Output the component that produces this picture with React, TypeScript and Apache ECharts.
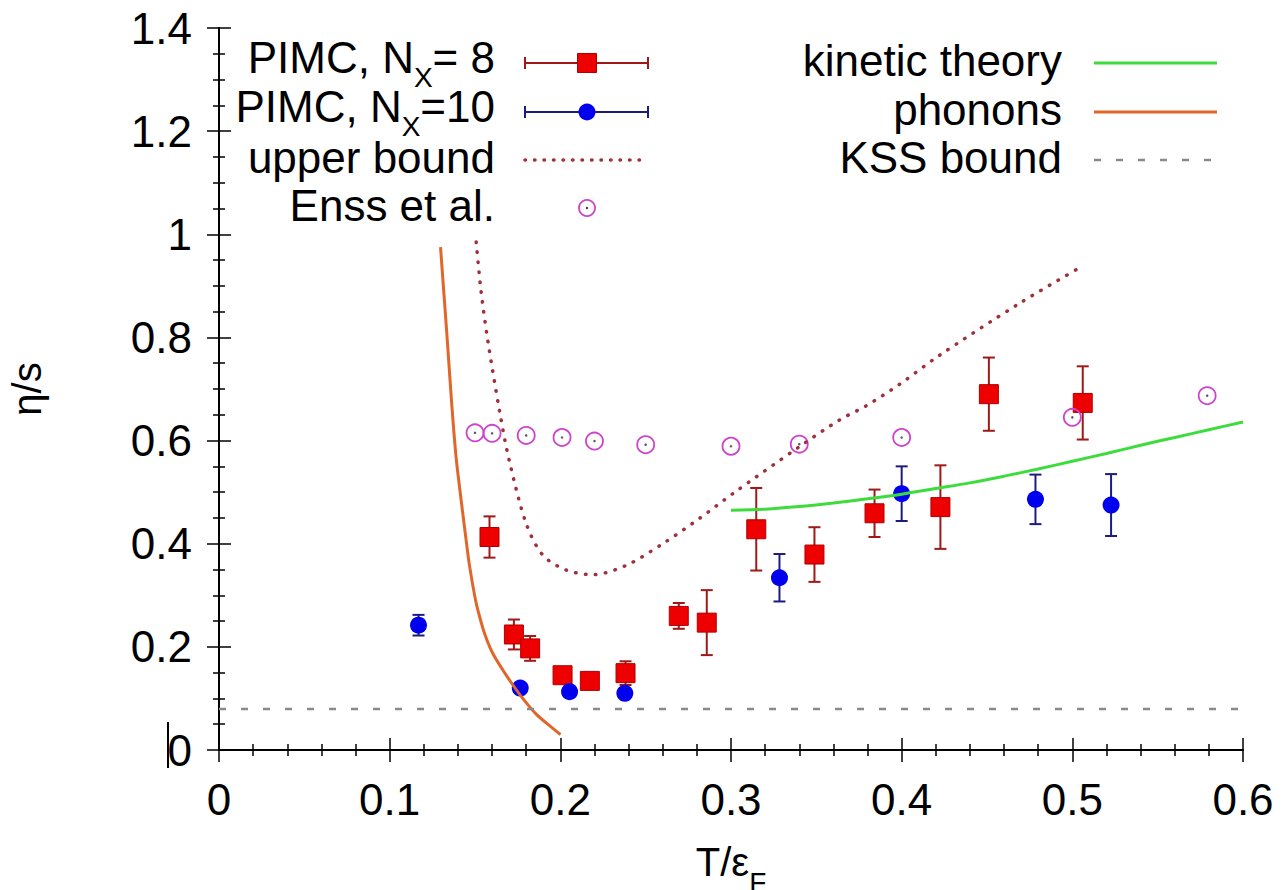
import React, { useEffect, useRef } from 'react';
import * as echarts from 'echarts';

// ---------- data ----------
const pimc8T = [0.1585, 0.1728, 0.1823, 0.2013, 0.2173, 0.2382, 0.2694, 0.2858, 0.3148, 0.3489, 0.3841, 0.4227, 0.4511, 0.5061];
const pimc8Eta = [0.413, 0.224, 0.197, 0.145, 0.134, 0.149, 0.260, 0.247, 0.428, 0.379, 0.459, 0.471, 0.690, 0.673];
const pimc8Err = [0.040, 0.029, 0.024, 0.012, 0.010, 0.023, 0.025, 0.063, 0.080, 0.053, 0.046, 0.081, 0.071, 0.071];

const pimc10T = [0.1169, 0.1765, 0.2054, 0.2378, 0.3284, 0.4000, 0.4784, 0.5227];
const pimc10Eta = [0.242, 0.120, 0.113, 0.110, 0.334, 0.497, 0.486, 0.475];
const pimc10Err = [0.020, 0.008, 0.008, 0.008, 0.046, 0.053, 0.048, 0.060];

const ennsT = [0.150, 0.160, 0.180, 0.201, 0.220, 0.250, 0.300, 0.340, 0.400, 0.500, 0.579];
const ennsEta = [0.615, 0.614, 0.610, 0.606, 0.599, 0.592, 0.589, 0.593, 0.606, 0.645, 0.687];

const upperT = [0.1507, 0.1536, 0.1575, 0.1645, 0.170, 0.180, 0.1897, 0.2034, 0.219, 0.2386, 0.260, 0.2815, 0.301, 0.340, 0.3636, 0.379, 0.3987, 0.422, 0.469, 0.5047];
const upperEta = [0.985, 0.888, 0.794, 0.655, 0.562, 0.439, 0.378, 0.349, 0.340, 0.358, 0.400, 0.449, 0.497, 0.588, 0.640, 0.667, 0.709, 0.765, 0.866, 0.936];

const kineticT = [0.30, 0.32, 0.34, 0.36, 0.38, 0.40, 0.42, 0.44, 0.46, 0.48, 0.50, 0.52, 0.54, 0.56, 0.58, 0.60];
const kineticEta = [0.465, 0.467, 0.472, 0.479, 0.487, 0.496, 0.507, 0.518, 0.531, 0.545, 0.560, 0.575, 0.591, 0.606, 0.621, 0.636];

const phononT = [0.1298, 0.1335, 0.1365, 0.1390, 0.1419, 0.1445, 0.1468, 0.1503, 0.1530, 0.1556, 0.1600, 0.1663, 0.1720, 0.1780, 0.1860, 0.1956, 0.2001];
const phononEta = [0.975, 0.807, 0.665, 0.565, 0.484, 0.415, 0.357, 0.291, 0.255, 0.226, 0.190, 0.155, 0.127, 0.100, 0.069, 0.042, 0.030];

const kssT = [0, 0.6];
const kssValue = 0.0796;

const xMin = 0, xMax = 0.6, xStep = 0.1;
const yMin = 0, yMax = 1.4, yStep = 0.2;

// legend labels: [main, subscript, tail]
const pimcLegendLabels = [
  ['PIMC, N', 'X', '= 8'],
  ['PIMC, N', 'X', '=10'],
];
const plainLegendLabels = ['upper bound', 'Enss et al.'];
const rightLegendLabels = ['kinetic theory', 'phonons', 'KSS bound'];
const xTitle = ['T/ε', 'F'];
const yTitle = 'η/s';

// ---------- styles ----------
const FONT = "'Liberation Sans', Arial, sans-serif";
const RED = '#ee0000';
const RED_ERR = '#a01818';
const BLUE = '#0000ee';
const BLUE_ERR = '#1c1c80';
const MAGENTA = '#cc44cc';
const GREEN = '#3ddc3d';
const ORANGE = '#e0662a';
const DOTRED = '#a0303c';
const GRAY = '#8a8a8a';

function measure(text: string, size: number): number {
  const c = document.createElement('canvas').getContext('2d');
  if (!c) return text.length * size * 0.55;
  c.font = `${size}px ${FONT}`;
  return c.measureText(text).width;
}

function errorBars(name: string, xs: number[], ys: number[], errs: number[], color: string) {
  return {
    type: 'custom',
    name,
    silent: true,
    data: xs.map((x, i) => [x, ys[i] - errs[i], ys[i] + errs[i]]),
    encode: { x: 0, y: [1, 2] },
    renderItem: (_params: any, api: any) => {
      const x = api.value(0);
      const lo = api.coord([x, api.value(1)]);
      const hi = api.coord([x, api.value(2)]);
      const hw = 6;
      const style = { stroke: color, lineWidth: 2 };
      return {
        type: 'group',
        children: [
          { type: 'line', shape: { x1: lo[0], y1: lo[1], x2: hi[0], y2: hi[1] }, style },
          { type: 'line', shape: { x1: lo[0] - hw, y1: lo[1], x2: lo[0] + hw, y2: lo[1] }, style },
          { type: 'line', shape: { x1: hi[0] - hw, y1: hi[1], x2: hi[0] + hw, y2: hi[1] }, style },
        ],
      };
    },
  };
}

const zip = (a: number[], b: number[]) => a.map((v, i) => [v, b[i]]);

export default function App() {
  const ref = useRef<HTMLDivElement>(null);
  useEffect(() => {
    if (!ref.current) return;
    const chart = echarts.init(ref.current, undefined, { renderer: 'svg' });

    const axisCommon = {
      type: 'value',
      axisLine: { show: true, lineStyle: { color: '#000', width: 2 } },
      splitLine: { show: false },
    };
    const tick = { show: true, inside: true, length: 12, lineStyle: { color: '#000', width: 1.5 } };

    const lgX1 = 525, lgX2 = 648, lgXc = 587;
    const lgTextRight = 495;
    const rows = [63, 112, 160, 208];
    const rRows = [63, 112, 160];
    const txt = (text: string, x: number, y: number, size: number, align: string) => ({
      type: 'text', x, y, z: 100,
      style: { text, font: `${size}px ${FONT}`, fill: '#000', align, verticalAlign: 'middle' },
    });

    const pimcTexts: any[] = [];
    pimcLegendLabels.forEach(([main, sub, tail], i) => {
      const y = rows[i] - 6;
      const wTail = measure(tail, 44);
      const wSub = measure(sub, 28);
      pimcTexts.push(txt(tail, lgTextRight, y, 44, 'right'));
      pimcTexts.push(txt(sub, lgTextRight - wTail, y + 20, 28, 'right'));
      pimcTexts.push(txt(main, lgTextRight - wTail - wSub, y, 44, 'right'));
    });

    // x-axis title, centred under the plot area
    const xMid = (219 + 1243) / 2;
    const wT = measure(xTitle[0], 40);
    const wF = measure(xTitle[1], 28);
    const xStart = xMid - (wT + wF) / 2;

    const graphic: any[] = [
      ...pimcTexts,
      ...plainLegendLabels.map((t, i) => txt(t, lgTextRight, rows[i + 2] - 3, 44, 'right')),
      // PIMC 8 key
      { type: 'line', shape: { x1: lgX1, y1: rows[0], x2: lgX2, y2: rows[0] }, style: { stroke: RED_ERR, lineWidth: 2 } },
      { type: 'line', shape: { x1: lgX1, y1: rows[0] - 6, x2: lgX1, y2: rows[0] + 6 }, style: { stroke: RED_ERR, lineWidth: 2 } },
      { type: 'line', shape: { x1: lgX2, y1: rows[0] - 6, x2: lgX2, y2: rows[0] + 6 }, style: { stroke: RED_ERR, lineWidth: 2 } },
      { type: 'rect', shape: { x: lgXc - 9.5, y: rows[0] - 9.5, width: 19, height: 19 }, style: { fill: RED, stroke: '#b00000', lineWidth: 1 } },
      // PIMC 10 key
      { type: 'line', shape: { x1: lgX1, y1: rows[1], x2: lgX2, y2: rows[1] }, style: { stroke: BLUE_ERR, lineWidth: 2 } },
      { type: 'line', shape: { x1: lgX1, y1: rows[1] - 6, x2: lgX1, y2: rows[1] + 6 }, style: { stroke: BLUE_ERR, lineWidth: 2 } },
      { type: 'line', shape: { x1: lgX2, y1: rows[1] - 6, x2: lgX2, y2: rows[1] + 6 }, style: { stroke: BLUE_ERR, lineWidth: 2 } },
      { type: 'circle', shape: { cx: lgXc, cy: rows[1], r: 8.5 }, style: { fill: BLUE } },
      // upper bound key
      { type: 'line', shape: { x1: lgX1, y1: rows[2], x2: lgX2, y2: rows[2] }, style: { stroke: DOTRED, lineWidth: 3.5, lineDash: [0.5, 9], lineCap: 'round' } },
      // Enss key
      { type: 'circle', shape: { cx: lgXc, cy: rows[3], r: 8 }, style: { fill: 'none', stroke: MAGENTA, lineWidth: 1.8 } },
      { type: 'circle', shape: { cx: lgXc, cy: rows[3], r: 1.2 }, style: { fill: '#333' } },
      // right legend
      ...rightLegendLabels.map((t, i) => txt(t, 1062, rRows[i] - 3, 44, 'right')),
      { type: 'line', shape: { x1: 1094, y1: rRows[0], x2: 1217, y2: rRows[0] }, style: { stroke: GREEN, lineWidth: 3 } },
      { type: 'line', shape: { x1: 1094, y1: rRows[1], x2: 1217, y2: rRows[1] }, style: { stroke: ORANGE, lineWidth: 3 } },
      { type: 'line', shape: { x1: 1094, y1: rRows[2], x2: 1217, y2: rRows[2] }, style: { stroke: GRAY, lineWidth: 2.5, lineDash: [7, 15] } },
      // x-axis title with subscript
      txt(xTitle[0], xStart, 862, 40, 'left'),
      txt(xTitle[1], xStart + wT, 882, 28, 'left'),
      // stray bar next to the "0" tick label
      { type: 'line', shape: { x1: 168, y1: 722, x2: 168, y2: 768 }, style: { stroke: '#000', lineWidth: 2 } },
    ];

    chart.setOption({
      animation: false,
      backgroundColor: '#fff',
      grid: { left: 219, right: 41, top: 28, bottom: 140, containLabel: false, outerBoundsMode: 'none' },
      xAxis: [
        {
          ...axisCommon,
          min: xMin, max: xMax, interval: xStep,
          position: 'bottom',
          axisTick: tick,
          minorTick: { show: true, splitNumber: 5, length: 6, lineStyle: { color: '#000', width: 1.5 } },
          axisLabel: { fontSize: 44, fontFamily: FONT, color: '#000', margin: 27 },
        },
        {
          ...axisCommon,
          min: xMin, max: xMax, interval: xStep,
          position: 'top',
          axisTick: tick,
          minorTick: { show: true, splitNumber: 5, length: 6, lineStyle: { color: '#000', width: 1.5 } },
          axisLabel: { show: false },
        },
      ],
      yAxis: [
        {
          ...axisCommon,
          min: yMin, max: yMax, interval: yStep,
          position: 'left',
          name: yTitle,
          nameLocation: 'middle',
          nameRotate: 90,
          nameGap: 172,
          nameTextStyle: { fontSize: 40, fontFamily: FONT, color: '#000' },
          axisTick: tick,
          minorTick: { show: true, splitNumber: 4, length: 6, lineStyle: { color: '#000', width: 1.5 } },
          axisLabel: { fontSize: 44, fontFamily: FONT, color: '#000', margin: 27 },
        },
        {
          ...axisCommon,
          min: yMin, max: yMax, interval: yStep,
          position: 'right',
          axisTick: tick,
          minorTick: { show: true, splitNumber: 4, length: 6, lineStyle: { color: '#000', width: 1.5 } },
          axisLabel: { show: false },
        },
      ],
      series: [
        errorBars('PIMC8 err', pimc8T, pimc8Eta, pimc8Err, RED_ERR),
        {
          type: 'scatter', name: 'PIMC, Nx= 8', data: zip(pimc8T, pimc8Eta),
          symbol: 'rect', symbolSize: 19,
          itemStyle: { color: RED, borderColor: '#b00000', borderWidth: 1, opacity: 1 },
        },
        errorBars('PIMC10 err', pimc10T, pimc10Eta, pimc10Err, BLUE_ERR),
        {
          type: 'scatter', name: 'PIMC, Nx=10', data: zip(pimc10T, pimc10Eta),
          symbol: 'circle', symbolSize: 17,
          itemStyle: { color: BLUE, opacity: 1 },
        },
        {
          type: 'line', name: 'upper bound', data: zip(upperT, upperEta),
          showSymbol: false, smooth: 0.3,
          lineStyle: { color: DOTRED, width: 3.5, type: [0.5, 9.5], cap: 'round' },
        },
        {
          type: 'scatter', name: 'Enss et al.', data: zip(ennsT, ennsEta),
          symbol: 'circle', symbolSize: 17,
          itemStyle: { color: 'rgba(0,0,0,0)', borderColor: MAGENTA, borderWidth: 1.8, opacity: 1 },
        },
        {
          type: 'scatter', name: 'Enss centers', data: zip(ennsT, ennsEta),
          symbol: 'circle', symbolSize: 2.5, silent: true,
          itemStyle: { color: '#333' },
        },
        {
          type: 'line', name: 'kinetic theory', data: zip(kineticT, kineticEta),
          showSymbol: false, smooth: 0.3,
          lineStyle: { color: GREEN, width: 3 },
        },
        {
          type: 'line', name: 'phonons', data: zip(phononT, phononEta),
          showSymbol: false, smooth: 0.3,
          lineStyle: { color: ORANGE, width: 3 },
        },
        {
          type: 'line', name: 'KSS bound', data: kssT.map((t) => [t, kssValue]),
          showSymbol: false,
          lineStyle: { color: GRAY, width: 2.5, type: [7, 15] },
        },
      ],
      graphic,
    });
    return () => chart.dispose();
  }, []);
  return <div ref={ref} style={{ position: 'absolute', left: 0, top: 0, width: 1284, height: 890 }} />;
}
